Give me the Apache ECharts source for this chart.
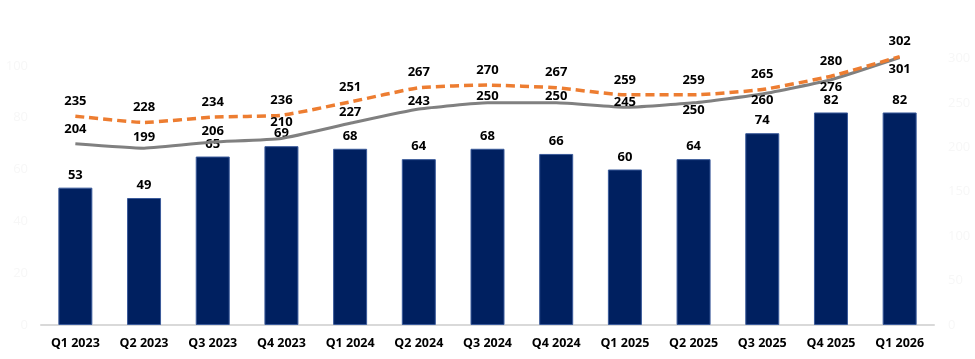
<!DOCTYPE html>
<html><head><meta charset="utf-8">
<script src="https://cdn.jsdelivr.net/npm/echarts@6/dist/echarts.min.js"></script>
<style>html,body{margin:0;padding:0;background:#fff}#c{width:975px;height:359px}</style>
</head><body><div id="c"></div>
<script>
const categories = ['Q1 2023','Q2 2023','Q3 2023','Q4 2023','Q1 2024','Q2 2024','Q3 2024','Q4 2024','Q1 2025','Q2 2025','Q3 2025','Q4 2025','Q1 2026'];
const barValues = [53,49,65,69,68,64,68,66,60,64,74,82,82];
const grayValues = [204,199,206,210,227,243,250,250,245,250,260,276,301];
const orangeValues = [235,228,234,236,251,267,270,267,259,259,265,280,302];
const grayLabelBelow = [false,false,false,false,false,false,false,false,false,true,true,true,true];
const grayLabelGap = [7,4,4,9,4,1,0,0,-2,0,-1,1,5];

const font = '"Open Sans", sans-serif';
const chart = echarts.init(document.getElementById('c'), null, {renderer:'canvas'});
const lblStyle = {show:true, color:'#000', fontWeight:'bold', fontSize:13, fontFamily:font};
chart.setOption({
  animation:false,
  grid:{left:41, right:41, top:14, bottom:34},
  xAxis:{type:'category', data:categories,
    axisLine:{lineStyle:{color:'#d9d9d9', width:2}}, axisTick:{show:false},
    axisLabel:{color:'#000', fontWeight:'bold', fontSize:12.5, fontFamily:font, margin:12}},
  yAxis:[
    {type:'value', min:0, max:120, interval:20, splitLine:{show:false},
     axisLabel:{color:'#f7f7f7', fontSize:13, fontFamily:font, margin:13, showMaxLabel:false}},
    {type:'value', min:0, max:350, interval:50, splitLine:{show:false},
     axisLabel:{color:'#f7f7f7', fontSize:13, fontFamily:font, margin:14, showMaxLabel:false}}
  ],
  series:[
    {type:'bar', data:barValues, barWidth:34, yAxisIndex:0,
     itemStyle:{color:'#002060', borderColor:'#3a5a9a', borderWidth:1},
     label:Object.assign({}, lblStyle, {position:'top', distance:6})},
    {type:'line', yAxisIndex:1, smooth:0.15, symbol:'circle', symbolSize:1, showSymbol:true,
     itemStyle:{color:'rgba(128,128,128,0)', borderWidth:0},
     data:grayValues.map((v,i)=>({value:v, label:{position: grayLabelBelow[i] ? 'bottom' : 'top', distance: grayLabelGap[i]}})),
     lineStyle:{color:'#808080', width:3},
     label:Object.assign({}, lblStyle)},
    {type:'line', yAxisIndex:1, smooth:0.15, symbol:'circle', symbolSize:1, showSymbol:true,
     itemStyle:{color:'rgba(237,125,49,0)', borderWidth:0},
     data:orangeValues,
     lineStyle:{color:'#ED7D31', width:3.5, type:[9,5]},
     label:Object.assign({}, lblStyle, {position:'top', distance:8})}
  ]
});
</script></body></html>
